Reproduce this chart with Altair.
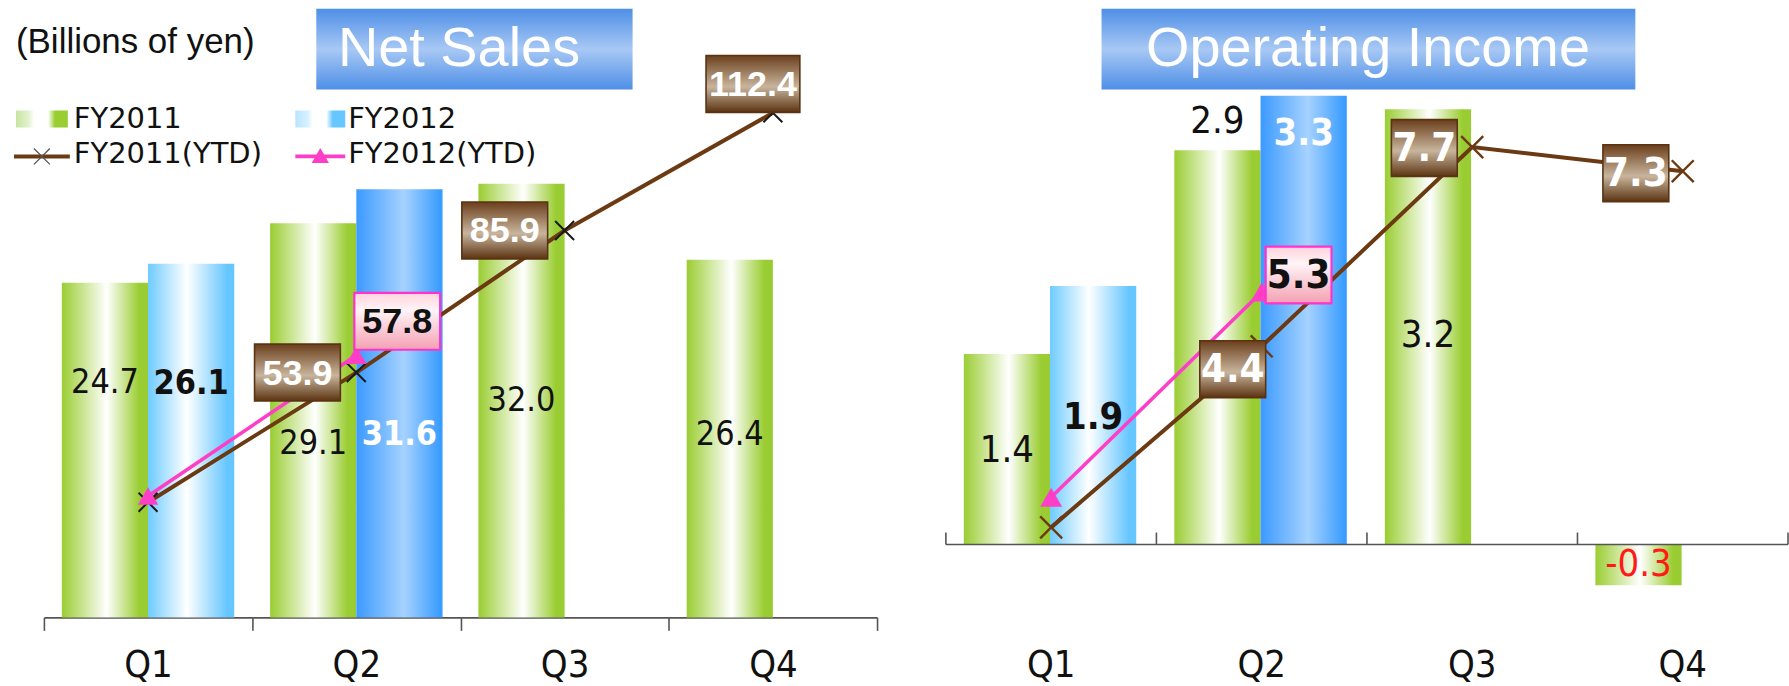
import altair as alt
import pandas as pd

# ---------------- data ----------------
quarters = ["Q1", "Q2", "Q3", "Q4"]
series_names = ["FY2011", "FY2012"]
legend_labels = ["FY2011", "FY2012", "FY2011(YTD)", "FY2012(YTD)"]

sales_fy2011 = [24.7, 29.1, 32.0, 26.4]
sales_fy2012 = [26.1, 31.6]
sales_ytd_fy2011 = [24.7, 53.9, 85.9, 112.4]
sales_ytd_fy2012 = [26.1, 57.8]

op_fy2011 = [1.4, 2.9, 3.2, -0.3]
op_fy2012 = [1.9, 3.3]
op_ytd_fy2011 = [1.4, 4.4, 7.7, 7.3]
op_ytd_fy2012 = [1.9, 5.3]

# ---------------- layout / style ----------------
# where each bar value label sits, as a fraction of its bar
sales_label_at = {"FY2011": [0.70, 0.44, 0.50, 0.51], "FY2012": [0.66, 0.425]}
op_label_at = {"FY2011": [0.49, 1.07, 0.48, 0.51], "FY2012": [0.49, 0.915]}

# pixel offsets of the YTD call-out boxes from their markers
sales_boxes = {("FY2011", "Q2"): (-59, 0), ("FY2011", "Q3"): (-60, 0),
               ("FY2011", "Q4"): (-20, -29), ("FY2012", "Q2"): (41, -34)}
op_boxes = {("FY2011", "Q2"): (-29, 23), ("FY2011", "Q3"): (-48, 1),
            ("FY2011", "Q4"): (-47, 2), ("FY2012", "Q2"): (37, -17)}

NARROW = "Liberation Sans Narrow, DejaVu Sans Condensed, Liberation Sans, Arial, sans-serif"
REG = "Liberation Sans, Arial, sans-serif"
WIDE = "DejaVu Sans, Verdana, sans-serif"
H = 611


def hgrad(stops):
    return alt.LinearGradient(gradient="linear", x1=0, x2=1, y1=0, y2=0,
                              stops=[alt.GradientStop(offset=o, color=c) for o, c in stops])


def vgrad(stops):
    return alt.LinearGradient(gradient="linear", x1=0, x2=0, y1=0, y2=1,
                              stops=[alt.GradientStop(offset=o, color=c) for o, c in stops])


GREEN = hgrad([(0, "#9acd32"), (0.52, "#ffffff"), (0.9, "#9acd32"), (1, "#99cc33")])
LIGHT = hgrad([(0, "#6ecbff"), (0.45, "#ffffff"), (0.92, "#66c6ff"), (1, "#66c6ff")])
DARK = hgrad([(0, "#3b9aff"), (0.55, "#a6d2ff"), (1, "#3399ff")])
BROWN = vgrad([(0, "#6b3f1c"), (0.55, "#c8b59d"), (1, "#5b3311")])
PINK = vgrad([(0, "#ffd2dc"), (0.3, "#fff4f6"), (1, "#f4a0b3")])
TITLE = vgrad([(0, "#4e8fe7"), (0.5, "#a8c8f4"), (1, "#4e8fe7")])
LEG_GREEN = hgrad([(0, "#c8e4a0"), (0.25, "#e4f2d0"), (0.35, "#ffffff"), (0.62, "#ffffff"),
                   (0.75, "#9acd32"), (1, "#9acd32")])
LEG_BLUE = hgrad([(0, "#b8e4ff"), (0.25, "#d8f0ff"), (0.35, "#ffffff"), (0.62, "#ffffff"),
                  (0.75, "#66c6ff"), (1, "#66c6ff")])
XSHAPE = "M-1,-1L1,1M-1,1L1,-1"


def bar_frame(v11, v12, lab):
    rows = []
    for s, vals in (("FY2011", v11), ("FY2012", v12)):
        for i, v in enumerate(vals):
            rows.append({"quarter": quarters[i], "series": s, "value": v,
                         "label": f"{v:.1f}", "label_y": v * lab[s][i],
                         "latest": bool(s == "FY2012" and i == len(v12) - 1)})
    return pd.DataFrame(rows)


def ytd_frame(y11, y12):
    rows = []
    for s, vals in (("FY2011", y11), ("FY2012", y12)):
        for i, v in enumerate(vals):
            rows.append({"quarter": quarters[i], "series": s, "ytd": v, "label": f"{v:.1f}"})
    return pd.DataFrame(rows)


one = pd.DataFrame({"k": [0]})
qdf = pd.DataFrame({"quarter": quarters})


def panel(bars, ytd, width, bar_dom, line_dom, off_pad, boxes, right, title, title_box, title_cx):
    if right:
        axis = alt.Axis(title=None, labelAngle=0, domain=False, ticks=False, grid=False,
                        labelFont=NARROW, labelFontSize=38, labelColor="#111", labelPadding=29)
    else:
        axis = alt.Axis(title=None, labelAngle=0, domain=True, domainColor="#555", domainWidth=1.6,
                        ticks=True, tickBand="extent", tickSize=13, tickColor="#555", tickWidth=1.6,
                        grid=False, labelFont=NARROW, labelFontSize=38, labelColor="#111",
                        labelPadding=16)
    xs = alt.Scale(domain=quarters, paddingInner=0, paddingOuter=0)

    def xe(band=None):
        if band is None:
            return alt.X("quarter:N", sort=quarters, scale=xs, axis=axis)
        return alt.X("quarter:N", sort=quarters, scale=xs, axis=axis, bandPosition=band)

    xo = alt.XOffset("series:N", scale=alt.Scale(domain=series_names, paddingOuter=off_pad, paddingInner=0))
    bs = alt.Scale(domain=bar_dom)
    ls = alt.Scale(domain=line_dom)

    base = alt.Chart(bars)
    bar_layers = []
    for cond, grad in (("datum.series == 'FY2011'", GREEN),
                       ("datum.series == 'FY2012' && !datum.latest", LIGHT),
                       ("datum.series == 'FY2012' && datum.latest", DARK)):
        bar_layers.append(base.transform_filter(cond).mark_bar(fill=grad, stroke=None).encode(
            x=xe(), xOffset=xo, y=alt.Y("value:Q", scale=bs, axis=None)))
    if right:
        bar_layers.append(alt.Chart(one).mark_rule(color="#555", strokeWidth=1.6).encode(
            x=alt.value(0), x2=alt.value(width), y=alt.YDatum(datum=0, type="quantitative", scale=bs, axis=None)))
        tick_h = 12.0 / H * (bar_dom[1] - bar_dom[0])
        for band, data in ((0, qdf), (1, qdf[qdf.quarter == quarters[-1]])):
            bar_layers.append(alt.Chart(data).mark_rule(color="#555", strokeWidth=1.6).encode(
                x=xe(band), y=alt.YDatum(datum=0, type="quantitative", scale=bs, axis=None),
                y2=alt.Y2Datum(datum=tick_h)))
    fs = 38 if right else 34
    bar_layers.append(base.transform_filter("datum.series == 'FY2011'").transform_calculate(
        tc="datum.value < 0 ? '#ff1a1a' : '#111111'").mark_text(
        font=NARROW, fontSize=fs, baseline="middle").encode(
        x=xe(), xOffset=xo, y=alt.Y("label_y:Q", scale=bs, axis=None), text="label:N",
        color=alt.Color("tc:N", scale=None)))
    bar_layers.append(base.transform_filter("datum.series == 'FY2012' && !datum.latest").mark_text(
        font=NARROW, fontSize=fs, fontWeight="bold", baseline="middle", color="#111").encode(
        x=xe(), xOffset=xo, y=alt.Y("label_y:Q", scale=bs, axis=None), text="label:N"))
    bar_layers.append(base.transform_filter("datum.series == 'FY2012' && datum.latest").mark_text(
        font=NARROW, fontSize=fs, fontWeight="bold", baseline="middle", color="#ffffff").encode(
        x=xe(), xOffset=xo, y=alt.Y("label_y:Q", scale=bs, axis=None), text="label:N"))

    lb = alt.Chart(ytd)
    ly = alt.Y("ytd:Q", scale=ls, axis=None)
    line_layers = [
        lb.transform_filter("datum.series == 'FY2011'").mark_line(color="#6b3a12", strokeWidth=4).encode(
            x=xe(), y=ly),
        lb.transform_filter("datum.series == 'FY2012'").mark_line(color="#ff3ec8", strokeWidth=3.6).encode(
            x=xe(), y=ly),
        lb.transform_filter("datum.series == 'FY2011'").mark_point(
            shape=XSHAPE, size=484 if right else 360, filled=False, opacity=1,
            color="#6b3a12" if right else "#1a1a1a", strokeWidth=2.4 if right else 2).encode(x=xe(), y=ly),
        lb.transform_filter("datum.series == 'FY2012'").mark_point(
            shape="triangle-up", size=480 if right else 420, filled=True, opacity=1,
            color="#ff3ec8").encode(x=xe(), y=ly),
    ]
    for (s, q), (dx, dy) in boxes.items():
        lab = ytd[(ytd.series == s) & (ytd.quarter == q)]["label"].iloc[0]
        if right:
            w, h = 66, 57
        else:
            w, h = (86, 57) if len(lab) <= 4 else (94, 57)
        hh = h / w
        path = f"M-1,{-hh:.4f}H1V{hh:.4f}H-1Z"
        brown = s == "FY2011"
        sel = lb.transform_filter(f"datum.series == '{s}' && datum.quarter == '{q}'")
        line_layers.append(sel.mark_point(
            shape=path, size=w * w, filled=True, opacity=1, fill=BROWN if brown else PINK,
            stroke="#5a3312" if brown else "#ff33cc", strokeWidth=1.6 if brown else 2.2,
            xOffset=dx, yOffset=dy).encode(x=xe(), y=ly))
        line_layers.append(sel.mark_text(
            font=NARROW if right else REG, fontSize=40 if right else 36, fontWeight="bold",
            color="#ffffff" if brown else "#111111", baseline="middle", dx=dx, dy=dy + 1).encode(
            x=xe(), y=ly, text="label:N"))

    # title box
    x0, x1 = title_box
    line_layers.append(alt.Chart(one).mark_rect(fill=TITLE).encode(
        x=alt.value(x0), x2=alt.value(x1), y=alt.value(1), y2=alt.value(82)))
    line_layers.append(alt.Chart(one).mark_text(font=REG, fontSize=56, color="#ffffff",
                                                baseline="middle").encode(
        x=alt.value(title_cx), y=alt.value(41), text=alt.value(title)))

    if not right:
        deco = [
            alt.Chart(one).mark_text(font=REG, fontSize=35, color="#111", align="left",
                                     baseline="middle").encode(
                x=alt.value(-28), y=alt.value(34), text=alt.value("(Billions of yen)")),
            alt.Chart(one).mark_rect(fill=LEG_GREEN).encode(
                x=alt.value(-28), x2=alt.value(24), y=alt.value(103), y2=alt.value(120)),
            alt.Chart(one).mark_rect(fill=LEG_BLUE).encode(
                x=alt.value(252), x2=alt.value(302), y=alt.value(103), y2=alt.value(120)),
            alt.Chart(one).mark_rule(color="#6b3a12", strokeWidth=4).encode(
                x=alt.value(-30), x2=alt.value(26), y=alt.value(149)),
            alt.Chart(one).mark_point(shape=XSHAPE, size=256, filled=False, opacity=1, color="#555",
                                      strokeWidth=1.3).encode(x=alt.value(-2), y=alt.value(149)),
            alt.Chart(one).mark_rule(color="#ff3ec8", strokeWidth=3.6).encode(
                x=alt.value(252), x2=alt.value(302), y=alt.value(149)),
            alt.Chart(one).mark_point(shape="triangle-up", size=300, filled=True, opacity=1,
                                      color="#ff3ec8").encode(x=alt.value(277), y=alt.value(148)),
        ]
        for lab, lx, lyy in ((legend_labels[0], 30, 112), (legend_labels[1], 305, 112),
                             (legend_labels[2], 30, 147), (legend_labels[3], 305, 147)):
            deco.append(alt.Chart(one).mark_text(font=WIDE, fontSize=29, color="#111", align="left",
                                                 baseline="middle").encode(
                x=alt.value(lx), y=alt.value(lyy), text=alt.value(lab)))
        line_layers += deco

    return alt.layer(alt.layer(*bar_layers), alt.layer(*line_layers)).resolve_scale(
        y="independent").properties(width=width, height=H)


left = panel(bar_frame(sales_fy2011, sales_fy2012, sales_label_at),
             ytd_frame(sales_ytd_fy2011, sales_ytd_fy2012),
             835, [0, 45], [-1.24, 136.07], 0.208, sales_boxes, False,
             "Net Sales", (273, 590), 416)
right = panel(bar_frame(op_fy2011, op_fy2012, op_label_at),
              ytd_frame(op_ytd_fy2011, op_ytd_fy2012),
              844, [-0.536, 3.947], [-0.091, 10.008], 0.234, op_boxes, True,
              "Operating Income", (156, 691), 423)

chart = alt.hconcat(left, right, spacing=67).properties(
    padding={"left": 12, "top": 7, "right": 0, "bottom": 0},
    background="white",
).configure_view(stroke=None)

chart.save("out.html", embed_options={"renderer": "svg", "actions": False})
